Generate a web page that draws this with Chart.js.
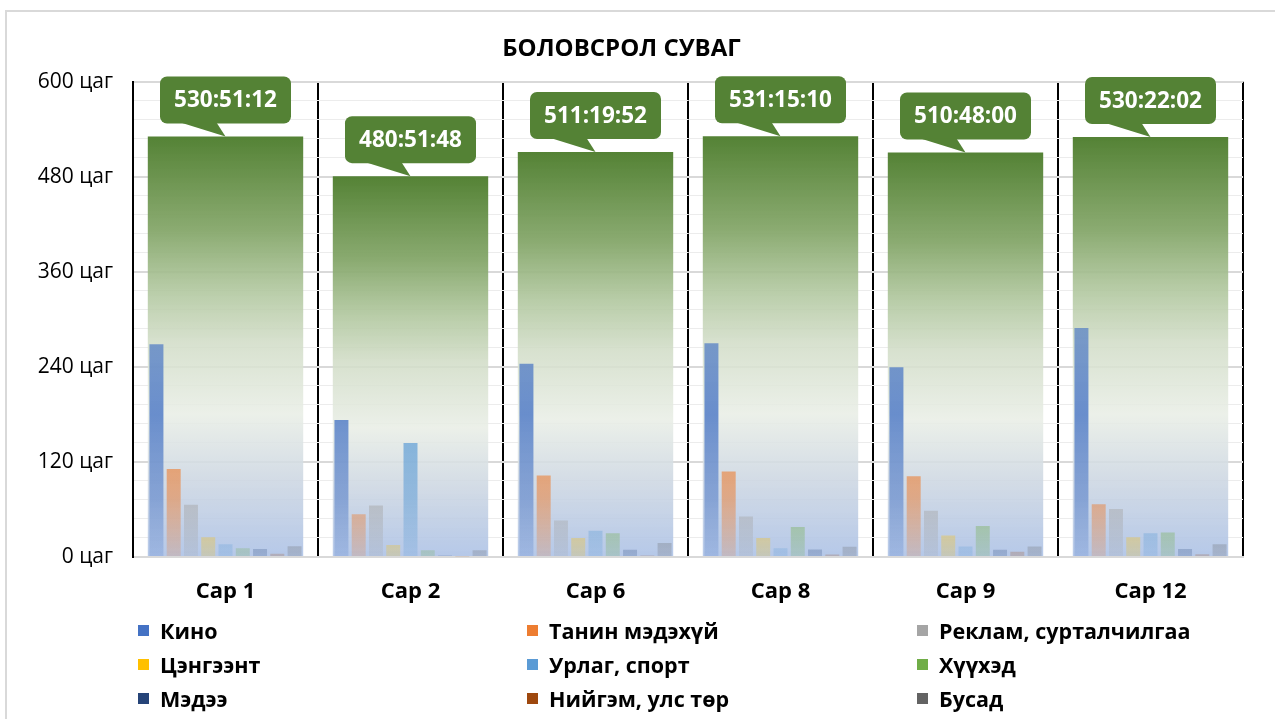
<!DOCTYPE html>
<html>
<head>
<meta charset="utf-8">
<script src="https://cdn.jsdelivr.net/npm/chart.js@4"></script>
<style>
  body { margin: 0; background: #fff; }
  #frame { position: absolute; left: 5px; top: 10px; width: 1300px; height: 760px; border: 2px solid #d9d9d9; box-sizing: border-box; }
  #wrap { position: absolute; left: 0; top: 0; width: 1275px; height: 719px; }
  #legend { position: absolute; left: 138px; top: 613px; display: grid; grid-template-columns: 389px 390px 300px; font: bold 21.5px "Open Sans", sans-serif; color: #000; }
  .item { height: 34px; display: flex; align-items: center; }
  .box { width: 11px; height: 11px; margin-right: 11px; }
</style>
</head>
<body>
<div id="frame"></div>
<div id="wrap"><canvas id="myChart" width="1275" height="719"></canvas></div>
<div id="legend"></div>
<script>
const categories = ["Сар 1", "Сар 2", "Сар 6", "Сар 8", "Сар 9", "Сар 12"];
const seriesNames = [
  "Кино",
  "Танин мэдэхүй",
  "Реклам, сурталчилгаа",
  "Цэнгээнт",
  "Урлаг, спорт",
  "Хүүхэд",
  "Мэдээ",
  "Нийгэм, улс төр",
  "Бусад",
];
const seriesColors = ["68,114,196", "237,125,49", "165,165,165", "255,192,0", "91,155,213", "112,173,71", "38,68,120", "158,72,14", "99,99,99"];

// hours per genre
const kino = [268.7, 173, 244, 270, 239.5, 289];
const tanin = [111, 54, 103, 108, 102, 66.5];
const reklam = [66, 65, 46, 51, 58.5, 60.6];
const tsengeent = [25, 15, 24, 24, 27, 25];
const urlag = [16, 144, 33, 11, 13.4, 30];
const khuukhed = [11, 8.5, 30, 38, 39, 31];
const medee = [10, 2, 9, 9.6, 9, 10];
const niigem = [4, 0.5, 2, 3, 6.7, 3.4];
const busad = [13.5, 8.5, 17.7, 13, 13.4, 16];
const seriesValues = [kino, tanin, reklam, tsengeent, urlag, khuukhed, medee, niigem, busad];

const totalHours = [530.853, 480.863, 511.331, 531.253, 510.8, 530.367];
const totalLabels = ["530:51:12", "480:51:48", "511:19:52", "531:15:10", "510:48:00", "530:22:02"];

// small bars fade out towards the axis
function fadeFill(c, rgb) {
  const chart = c.chart;
  if (!chart.chartArea) return "rgba(" + rgb + ",0.6)";
  const y = chart.scales.y;
  const g = chart.ctx.createLinearGradient(0, y.getPixelForValue(300), 0, y.getPixelForValue(0));
  g.addColorStop(0, "rgba(" + rgb + ",0.62)");
  g.addColorStop(0.4, "rgba(" + rgb + ",0.78)");
  g.addColorStop(0.75, "rgba(" + rgb + ",0.52)");
  g.addColorStop(1, "rgba(" + rgb + ",0.2)");
  return g;
}

// total bar: dark green on top, pale in the middle, light blue at the bottom
function totalFill(c) {
  const chart = c.chart;
  if (!chart.chartArea || !c.parsed) return "#548235";
  const y = chart.scales.y;
  const g = chart.ctx.createLinearGradient(0, y.getPixelForValue(c.parsed.y), 0, y.getPixelForValue(0));
  g.addColorStop(0, "rgba(84,130,53,1)");
  g.addColorStop(0.22, "rgba(132,166,105,0.95)");
  g.addColorStop(0.37, "rgba(178,200,160,0.9)");
  g.addColorStop(0.49, "rgba(210,221,200,0.88)");
  g.addColorStop(0.66, "rgba(233,238,230,0.88)");
  g.addColorStop(0.82, "rgba(204,214,226,0.88)");
  g.addColorStop(1, "rgba(173,194,230,0.9)");
  return g;
}

const datasets = seriesNames.map((name, i) => ({
  label: name,
  data: seriesValues[i],
  backgroundColor: (c) => fadeFill(c, seriesColors[i]),
  borderWidth: 0,
  categoryPercentage: 0.84,
  barPercentage: 0.81,
  order: 0,
}));
datasets.push({
  label: "Нийт",
  data: totalHours,
  grouped: false,
  backgroundColor: totalFill,
  borderWidth: 0,
  categoryPercentage: 0.84,
  barPercentage: 1,
  order: 1,
});

const callouts = {
  id: "callouts",
  afterDraw(chart) {
    const ctx = chart.ctx;
    const meta = chart.getDatasetMeta(chart.data.datasets.length - 1);
    meta.data.forEach((bar, i) => {
      const x = bar.x;
      const top = bar.y;
      const w = 131, h = 47;
      const bottom = top - 13;
      ctx.save();
      ctx.fillStyle = "#548235";
      ctx.beginPath();
      ctx.roundRect(x - w / 2, bottom - h, w, h, 7);
      ctx.fill();
      ctx.beginPath();
      ctx.moveTo(x - 45, bottom - 1);
      ctx.lineTo(x - 9, bottom - 1);
      ctx.lineTo(x, top);
      ctx.closePath();
      ctx.fill();
      ctx.fillStyle = "#fff";
      ctx.font = 'bold 22.5px "Open Sans"';
      ctx.textAlign = "center";
      ctx.textBaseline = "middle";
      ctx.fillText(totalLabels[i], x, bottom - h / 2 + 1);
      ctx.restore();
    });
  },
};

const ctx = document.getElementById("myChart");
new Chart(ctx, {
  type: "bar",
  data: {
    labels: categories,
    datasets: datasets,
  },
  options: {
    responsive: false,
    animation: false,
    layout: {
      padding: { left: 0, right: 32, top: 0, bottom: 0 },
    },
    plugins: {
      legend: { display: false },
      tooltip: { enabled: false },
      title: {
        display: true,
        text: "БОЛОВСРОЛ СУВАГ",
        color: "#000",
        font: { family: "Open Sans", size: 24, weight: "bold" },
        padding: { top: 35, bottom: 18 },
      },
    },
    scales: {
      x: {
        offset: true,
        grid: {
          display: true,
          offset: true,
          color: "#000",
          lineWidth: 2,
          drawTicks: false,
        },
        border: { color: "#d9d9d9", width: 2 },
        ticks: {
          color: "#000",
          font: { family: "Open Sans", size: 22, weight: "bold" },
          padding: 22,
        },
        afterFit: (s) => { s.height = 162; },
      },
      y: {
        min: 0,
        max: 600,
        border: { color: "#000", width: 2 },
        grid: {
          drawTicks: false,
          color: (c) => (c.tick.value % 120 === 0 ? "#d9d9d9" : "#ececec"),
          lineWidth: (c) => (c.tick.value % 120 === 0 ? 2 : 1),
        },
        ticks: {
          stepSize: 24,
          autoSkip: false,
          color: "#000",
          padding: 20,
          font: { family: "Open Sans", size: 21 },
          callback: (v) => (v % 120 === 0 ? v + " цаг" : ""),
        },
        afterFit: (s) => { s.width = 133; },
      },
    },
  },
  plugins: [callouts],
});

const legend = document.getElementById("legend");
seriesNames.forEach((name, i) => {
  const item = document.createElement("div");
  item.className = "item";
  const box = document.createElement("span");
  box.className = "box";
  box.style.background = "rgb(" + seriesColors[i] + ")";
  const text = document.createElement("span");
  text.textContent = name;
  item.appendChild(box);
  item.appendChild(text);
  legend.appendChild(item);
});
</script>
</body>
</html>
